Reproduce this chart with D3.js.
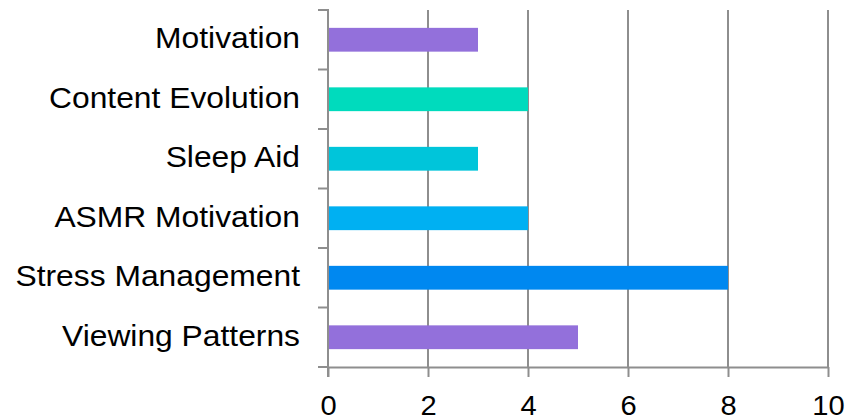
<!DOCTYPE html>
<html>
<head>
<meta charset="utf-8">
<script src="https://cdn.jsdelivr.net/npm/d3@7/dist/d3.min.js"></script>
<style>
  html, body { margin: 0; padding: 0; background: #fff; }
  svg { display: block; }
  text { font-family: "Liberation Sans", Arial, sans-serif; fill: #000; }
</style>
</head>
<body>
<svg id="chart" width="849" height="420"></svg>
<script>
// Topics, top to bottom, with their counts
const categories = ["Motivation", "Content Evolution", "Sleep Aid", "ASMR Motivation", "Stress Management", "Viewing Patterns"];
const values = [3, 4, 3, 4, 8, 5];
const barColors = ["#9370db", "#00dbbd", "#00c5da", "#00b0f2", "#0088f0", "#9370db"];
const xTicks = [0, 2, 4, 6, 8, 10];

const svg = d3.select("#chart");
const plotLeft = 328, plotRight = 828, plotTop = 10, plotBottom = 367;
const gridColor = "#8e8e8e";
const labelSize = 30, labelStretch = 1.06, tickSize = 28, tickStretch = 1.04;

const x = d3.scaleLinear().domain([0, 10]).range([plotLeft, plotRight]);
const y = d3.scaleBand().domain(categories).range([plotTop, plotBottom])
  .paddingInner(0.6).paddingOuter(0.3);

// vertical gridlines
svg.append("g").selectAll("line").data(xTicks.filter(d => d > 0)).join("line")
  .attr("x1", d => x(d)).attr("x2", d => x(d))
  .attr("y1", plotTop).attr("y2", plotBottom)
  .attr("stroke", gridColor).attr("stroke-width", 2);

// bars
svg.append("g").selectAll("rect").data(categories).join("rect")
  .attr("x", x(0))
  .attr("y", d => y(d))
  .attr("width", (d, i) => x(values[i]) - x(0))
  .attr("height", y.bandwidth())
  .attr("fill", (d, i) => barColors[i]);

// bottom axis
const xAxis = svg.append("g").attr("transform", `translate(0,${plotBottom})`)
  .call(d3.axisBottom(x).tickValues(xTicks).tickSize(10).tickSizeOuter(0).tickPadding(0));
xAxis.select(".domain").attr("stroke", gridColor).attr("stroke-width", 2);
xAxis.selectAll(".tick line").attr("stroke", gridColor).attr("stroke-width", 2);
xAxis.selectAll(".tick text")
  .attr("font-size", tickSize)
  .attr("font-family", "Liberation Sans, Arial, sans-serif")
  .attr("fill", "#000")
  .attr("y", 0).attr("dy", 0)
  .attr("transform", `translate(0,48) scale(${tickStretch},1)`);

// left axis with ticks on category boundaries
const step = y.step();
const boundaries = d3.range(categories.length + 1).map(i => plotTop + i * step);
svg.append("g").selectAll("line").data(boundaries).join("line")
  .attr("x1", plotLeft - 10).attr("x2", plotLeft)
  .attr("y1", d => d).attr("y2", d => d)
  .attr("stroke", gridColor).attr("stroke-width", 2);
svg.append("line")
  .attr("x1", plotLeft).attr("x2", plotLeft).attr("y1", plotTop - 1).attr("y2", plotBottom + 10)
  .attr("stroke", gridColor).attr("stroke-width", 2);

// category labels
svg.append("g").selectAll("text").data(categories).join("text")
  .attr("text-anchor", "end")
  .attr("font-size", labelSize)
  .attr("transform", d => `translate(300,${y(d) + y.bandwidth() / 2 + 8.5}) scale(${labelStretch},1)`)
  .text(d => d);
</script>
</body>
</html>
